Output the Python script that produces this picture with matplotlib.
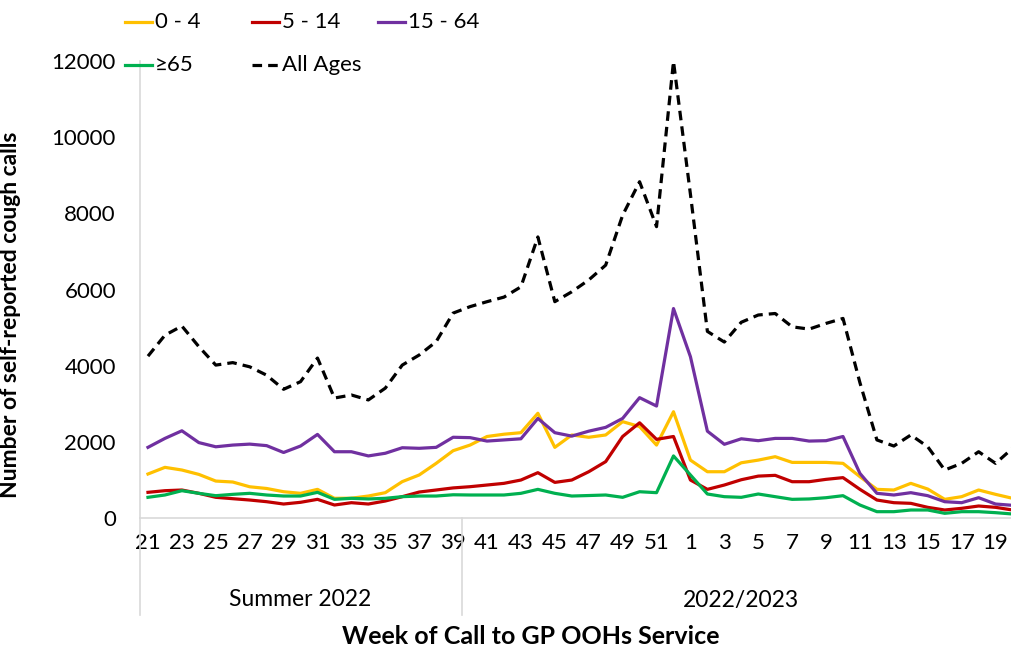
import matplotlib
matplotlib.use("Agg")
import matplotlib.pyplot as plt
from matplotlib.lines import Line2D

plt.rcParams['font.family'] = ['Lato', 'DejaVu Sans']

# Week numbers (week 21 of 2022 to week 20 of 2023)
weeks = list(range(21, 53)) + list(range(1, 21))

# Calls per week by age group
age_0_4 = [1155, 1330, 1260, 1145, 970, 945, 820, 775, 690, 648,
           752, 517, 520, 577, 665, 955, 1130, 1435, 1767, 1915,
           2140, 2200, 2240, 2750, 1855, 2180, 2120, 2180, 2530, 2400,
           1915, 2790, 1520, 1215, 1215, 1450, 1520, 1610, 1460, 1460,
           1460, 1435, 1085, 752, 735, 910, 760, 490, 560, 735,
           621, 517]
age_5_14 = [674, 717, 735, 648, 543, 507, 472, 428, 367, 412,
            490, 341, 402, 367, 446, 560, 682, 735, 790, 822,
            866, 910, 997, 1190, 935, 997, 1215, 1480, 2140, 2500,
            2065, 2140, 997, 752, 866, 1005, 1100, 1120, 953, 953,
            1015, 1060, 752, 472, 402, 385, 280, 210, 254, 315,
            280, 210]
age_15_64 = [1855, 2090, 2290, 1980, 1870, 1915, 1940, 1900, 1720, 1890,
             2195, 1740, 1740, 1630, 1700, 1845, 1830, 1855, 2120, 2110,
             2020, 2050, 2080, 2615, 2240, 2150, 2280, 2380, 2615, 3160,
             2940, 5500, 4235, 2280, 1935, 2080, 2030, 2090, 2090, 2020,
             2030, 2140, 1170, 648, 604, 665, 586, 428, 402, 533,
             367, 333]
age_65 = [543, 604, 717, 648, 586, 621, 648, 604, 577, 577,
          674, 490, 517, 500, 517, 560, 577, 577, 610, 604,
          604, 604, 648, 752, 648, 577, 590, 604, 543, 690,
          665, 1630, 1130, 630, 560, 543, 630, 560, 490, 500,
          533, 586, 341, 166, 166, 210, 210, 123, 166, 166,
          140, 105]
all_ages = [4250, 4800, 5040, 4500, 4015, 4080, 3970, 3750, 3380, 3580,
            4200, 3150, 3230, 3100, 3410, 4015, 4280, 4630, 5380, 5550,
            5680, 5800, 6070, 7380, 5680, 5940, 6250, 6640, 7950, 8830,
            7650, 11990, 8500, 4900, 4620, 5140, 5330, 5370, 5020, 4960,
            5110, 5240, 3550, 2050, 1890, 2180, 1870, 1260, 1435, 1740,
            1435, 1830]

groups = ["Summer 2022", "2022/2023"]
group_sizes = [19, 33]

W, H = 1012, 660
fig = plt.figure(figsize=(W / 100, H / 100), dpi=100)
x0, x1 = 139.5, 1021.0
y0, y1 = 518.0, 61.0
ax = fig.add_axes([x0 / W, 1 - y0 / H, (x1 - x0) / W, (y0 - y1) / H])

idx = list(range(len(weeks)))
lw = 2.3
series = [
    (age_0_4, '#FFC000', '0 - 4', None),
    (age_5_14, '#C00000', '5 - 14', None),
    (age_15_64, '#7030A0', '15 - 64', None),
    (age_65, '#00B050', '\u226565', None),
    (all_ages, 'black', 'All Ages', (3, 1.9)),
]
for vals, col, lab, dash in series:
    if dash:
        ax.plot(idx, vals, color=col, lw=lw, dashes=dash)
    else:
        ax.plot(idx, vals, color=col, lw=lw)

ax.set_xlim(-0.5, len(weeks) - 0.5)
ax.set_ylim(0, 12000)
ax.set_yticks(range(0, 12001, 2000))
ax.set_xticks(idx[::2])
ax.set_xticklabels([str(w) for w in weeks[::2]])
ax.tick_params(axis='both', length=0, labelsize=16, colors='black')
ax.tick_params(axis='x', pad=11)
ax.tick_params(axis='y', pad=17)
for s in ['top', 'right']:
    ax.spines[s].set_visible(False)
for s in ['left', 'bottom']:
    ax.spines[s].set_color('#D9D9D9')
    ax.spines[s].set_linewidth(1.2)

# group separators and group labels under the week labels
trans = ax.get_xaxis_transform()
start = -0.5
for name, n in zip(groups, group_sizes):
    ax.plot([start, start], [0, -97 / (y0 - y1)], transform=trans,
            color='#D9D9D9', lw=1.2, clip_on=False)
    ax.text(start + n / 2, -82 / (y0 - y1), name, transform=trans,
            ha='center', va='center', fontsize=16.5)
    start += n

ax.set_ylabel('Number of self-reported cough calls', fontsize=16.5,
              fontweight='bold')
ax.yaxis.set_label_coords(-(x0 - 21) / (x1 - x0), (y0 - 315) / (y0 - y1))
fig.text(531 / W, 1 - 637 / H, 'Week of Call to GP OOHs Service',
         ha='center', va='center', fontsize=18, fontweight='bold')

# legend laid out like the original: fixed columns, two rows
leg_x = [125, 252, 378]
leg_y = [22, 65]
for k, (vals, col, lab, dash) in enumerate(series):
    r, c = divmod(k, 3)
    xa, ya = leg_x[c], leg_y[r]
    ln = Line2D([xa / W, (xa + 27) / W], [1 - ya / H, 1 - ya / H],
                transform=fig.transFigure, color=col, lw=lw)
    if dash:
        ln.set_dashes(dash)
    fig.add_artist(ln)
    fig.text((xa + 30) / W, 1 - ya / H, lab, ha='left', va='center',
             fontsize=16)

fig.savefig('out.png', dpi=100)
